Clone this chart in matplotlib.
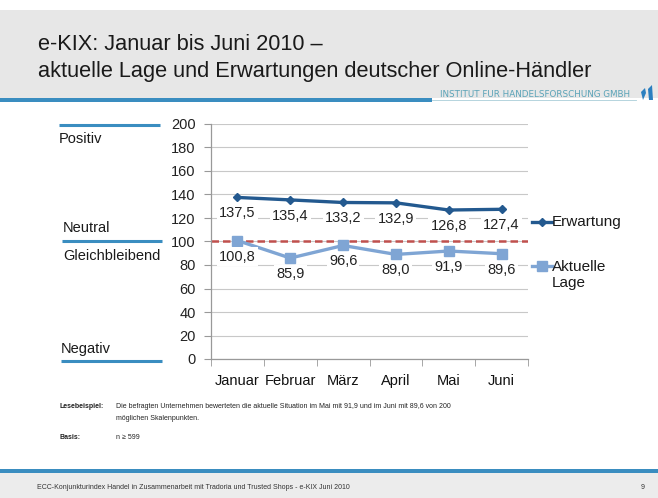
import matplotlib
matplotlib.use("Agg")
import matplotlib.pyplot as plt
from matplotlib.patches import Rectangle, Polygon
from matplotlib.lines import Line2D
from matplotlib import font_manager

months = ["Januar", "Februar", "März", "April", "Mai", "Juni"]
erwartung = [137.5, 135.4, 133.2, 132.9, 126.8, 127.4]
aktuelle = [100.8, 85.9, 96.6, 89.0, 91.9, 89.6]
yticks = [0, 20, 40, 60, 80, 100, 120, 140, 160, 180, 200]
neutral_value = 100

W, H = 658, 498
plt.rcParams['font.family'] = ['Liberation Sans', 'DejaVu Sans']
names = {f.name for f in font_manager.fontManager.ttflist}
narrow = 'Liberation Sans Narrow' if 'Liberation Sans Narrow' in names else 'Liberation Sans'
small_fs = 6.2 if narrow == 'Liberation Sans Narrow' else 5.0

fig = plt.figure(figsize=(W / 100, H / 100), dpi=100)
fig.patch.set_facecolor('white')

def fx(x):
    return x / W

def fy(y):
    return 1 - y / H

BLUE = '#3a8dc0'
C_ERW = '#23598f'
C_AKT = '#7fa5d4'

# header
fig.patches.append(Rectangle((0, fy(98)), 1, fy(10) - fy(98), transform=fig.transFigure,
                             facecolor='#e7e7e7', edgecolor='none', zorder=0))
fig.patches.append(Rectangle((0, fy(102)), fx(432), fy(98) - fy(102), transform=fig.transFigure,
                             facecolor=BLUE, edgecolor='none', zorder=1))
fig.lines.append(Line2D([fx(432), fx(636)], [fy(100), fy(100)], transform=fig.transFigure,
                        color='#a9cdd8', lw=0.6))
fig.text(fx(38), fy(45), "e-KIX: Januar bis Juni 2010 –", fontsize=15.7, color='#1a1a1a',
         va='center', ha='left')
fig.text(fx(38), fy(71), "aktuelle Lage und Erwartungen deutscher Online-Händler", fontsize=15.7,
         color='#1a1a1a', va='center', ha='left')
fig.text(fx(440), fy(94.5), "INSTITUT FUR HANDELSFORSCHUNG GMBH", fontsize=6.3, color='#5aa3b8',
         va='center', ha='left', family='DejaVu Sans')
# logo
fig.patches.append(Polygon([(fx(641), fy(92)), (fx(645), fy(88)), (fx(646), fy(93)), (fx(643), fy(100))],
                           closed=True, transform=fig.transFigure, facecolor='#2a7fc0', edgecolor='none'))
fig.patches.append(Polygon([(fx(648), fy(89)), (fx(652), fy(85)), (fx(653), fy(100)), (fx(649), fy(100))],
                           closed=True, transform=fig.transFigure, facecolor='#2a7fc0', edgecolor='none'))

# footer
fig.patches.append(Rectangle((0, fy(473)), 1, fy(469) - fy(473), transform=fig.transFigure,
                             facecolor=BLUE, edgecolor='none', zorder=1))
fig.patches.append(Rectangle((0, 0), 1, fy(473), transform=fig.transFigure,
                             facecolor='#ececec', edgecolor='none', zorder=0))
fig.text(fx(37), fy(487), "ECC-Konjunkturindex Handel in Zusammenarbeit mit Tradoria und Trusted Shops - e-KIX Juni 2010",
         fontsize=small_fs, family=narrow, color='#333333', va='center', ha='left')
fig.text(fx(641), fy(487), "9", fontsize=small_fs, family=narrow, color='#333333', va='center', ha='left')

# notes
fig.text(fx(60), fy(407), "Lesebeispiel:", fontsize=small_fs, family=narrow, fontweight='bold',
         color='#222222', va='center', ha='left')
fig.text(fx(116), fy(407), "Die befragten Unternehmen bewerteten die aktuelle Situation im Mai mit 91,9 und im Juni mit 89,6 von 200",
         fontsize=small_fs, family=narrow, color='#222222', va='center', ha='left')
fig.text(fx(116), fy(418), "möglichen Skalenpunkten.", fontsize=small_fs, family=narrow, color='#222222',
         va='center', ha='left')
fig.text(fx(60), fy(437), "Basis:", fontsize=small_fs, family=narrow, fontweight='bold',
         color='#222222', va='center', ha='left')
fig.text(fx(116), fy(437), "n ≥ 599", fontsize=small_fs, family=narrow, color='#222222',
         va='center', ha='left')

# left scale annotations
for y, x0, x1 in [(125, 59, 160), (241, 62, 162), (361, 61, 162)]:
    fig.lines.append(Line2D([fx(x0), fx(x1)], [fy(y), fy(y)], transform=fig.transFigure,
                            color=BLUE, lw=2.2, solid_capstyle='butt'))
fig.text(fx(59), fy(139), "Positiv", fontsize=10.5, color='#1a1a1a', va='center', ha='left')
fig.text(fx(63), fy(228), "Neutral", fontsize=10.5, color='#1a1a1a', va='center', ha='left')
fig.text(fx(63), fy(256), "Gleichbleibend", fontsize=10.5, color='#1a1a1a', va='center', ha='left')
fig.text(fx(61), fy(349), "Negativ", fontsize=10.5, color='#1a1a1a', va='center', ha='left')

# axes
ax = fig.add_axes([fx(211), fy(359), fx(528) - fx(211), fy(124) - fy(359)])
ax.set_facecolor('none')
x = list(range(len(months)))
ax.set_xlim(-0.5, len(months) - 0.5)
ax.set_ylim(0, 200)
ax.set_yticks(yticks)
ax.set_yticklabels([str(v) for v in yticks], fontsize=10.5, color='#222222')
ax.set_xticks(x)
ax.set_xticklabels(months, fontsize=10.5, color='#111111')
ax.set_xticks([i - 0.5 for i in range(len(months) + 1)], minor=True)
ax.tick_params(axis='x', which='major', length=0, pad=11)
ax.tick_params(axis='x', which='minor', length=5, color='#999999', direction='out')
ax.tick_params(axis='y', length=5, color='#999999', direction='out', pad=6)
for s in ['top', 'right']:
    ax.spines[s].set_visible(False)
for s in ['left', 'bottom']:
    ax.spines[s].set_color('#999999')
    ax.spines[s].set_linewidth(0.9)
ax.grid(axis='y', color='#c8c8c8', lw=0.8, zorder=0)
ax.set_axisbelow(True)

ax.axhline(neutral_value, color='#c0504d', lw=1.8, ls=(0, (3, 1.6)), zorder=2)

ax.plot(x, erwartung, color=C_ERW, lw=2.4, marker='D', ms=4.5, zorder=4, clip_on=False)
ax.plot(x, aktuelle, color=C_AKT, lw=2.4, marker='s', ms=6.5, zorder=3, clip_on=False)

def fmt(v):
    return f"{v:.1f}".replace('.', ',')

for series in (erwartung, aktuelle):
    for xi, v in zip(x, series):
        ax.annotate(fmt(v), (xi, v), xytext=(0, -11.5), textcoords='offset points', ha='center',
                    va='center', fontsize=10.5, color='#222222', zorder=5,
                    bbox=dict(boxstyle='square,pad=0.15', fc='white', ec='none'))

# legend (drawn manually to match layout)
fig.lines.append(Line2D([fx(532), fx(552)], [fy(222), fy(222)], transform=fig.transFigure,
                        color=C_ERW, lw=2.4))
fig.lines.append(Line2D([fx(542)], [fy(222)], transform=fig.transFigure, color=C_ERW,
                        marker='D', ms=4.5, lw=0))
fig.text(fx(552), fy(222), "Erwartung", fontsize=11, color='#1a1a1a', va='center', ha='left')
fig.lines.append(Line2D([fx(532), fx(552)], [fy(266), fy(266)], transform=fig.transFigure,
                        color=C_AKT, lw=2.4))
fig.lines.append(Line2D([fx(542)], [fy(266)], transform=fig.transFigure, color=C_AKT,
                        marker='s', ms=6.5, lw=0))
fig.text(fx(552), fy(275), "Aktuelle\nLage", fontsize=11, color='#1a1a1a', va='center', ha='left',
         linespacing=1.2)

fig.savefig('out.png', dpi=100)
